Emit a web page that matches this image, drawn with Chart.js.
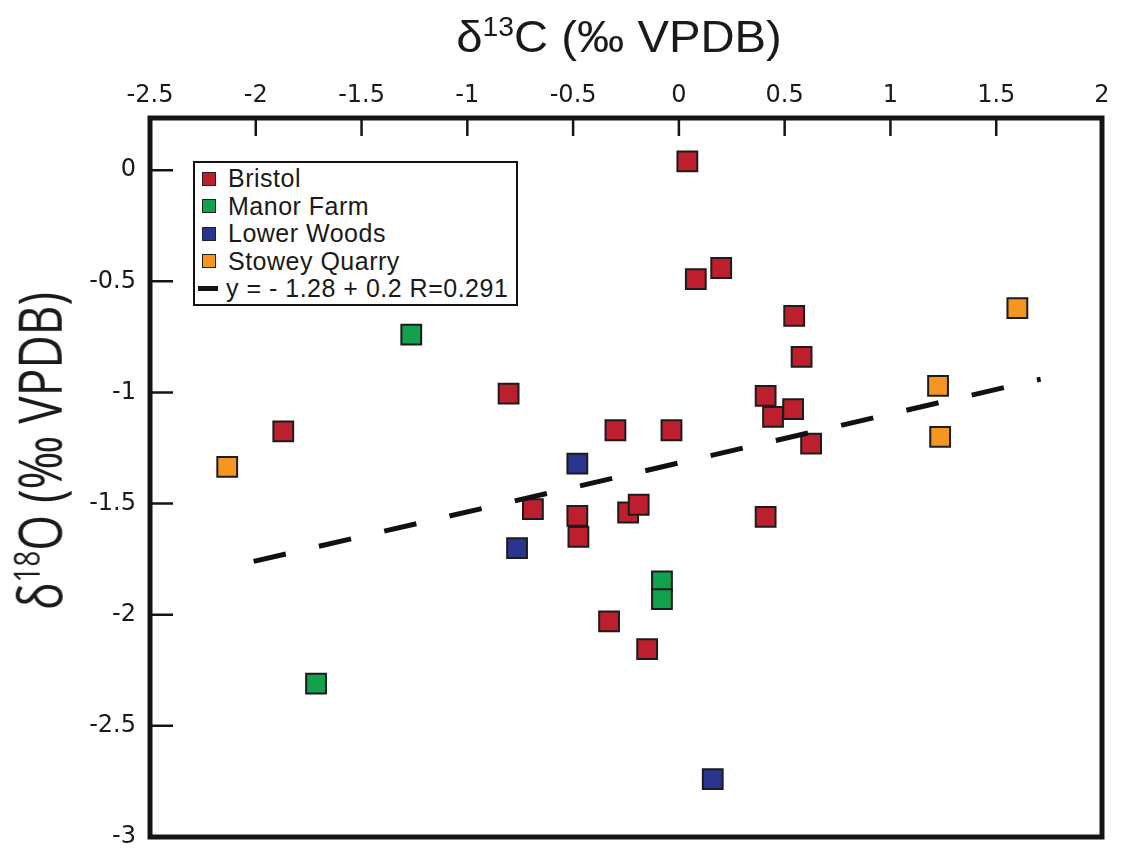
<!DOCTYPE html>
<html lang="en">
<head>
    <meta charset="UTF-8">
    <title>d13C vs d18O</title>
    <script src="https://cdn.jsdelivr.net/npm/chart.js"></script>
    <style>
        body {
            margin: 0;
            background: #ffffff;
        }

        #wrap {
            position: relative;
            width: 1126px;
            height: 863px;
        }

        #xTitle {
            position: absolute;
            left: 619px;
            top: 37px;
            transform: translate(-50%, -50%) scaleX(1.05);
            font-family: "Liberation Sans", Arial, sans-serif;
            font-size: 45px;
            color: #1a1a1a;
            white-space: nowrap;
        }

        #yTitle {
            position: absolute;
            left: 38px;
            top: 451px;
            transform: translate(-50%, -50%) rotate(-90deg) scaleY(1.3);
            font-family: "Open Sans", sans-serif;
            font-size: 46px;
            color: #1a1a1a;
            white-space: nowrap;
        }

        sup {
            font-size: 0.6em;
            vertical-align: 0.6em;
            line-height: 0;
        }

        #legend {
            position: absolute;
            left: 193px;
            top: 161px;
            width: 321px;
            border: 2px solid #111;
            background: #fff;
            padding-top: 2px;
            padding-bottom: 1px;
            font-family: "Liberation Sans", Arial, sans-serif;
            font-size: 25px;
            letter-spacing: 0.5px;
            color: #1a1a1a;
        }

        .row {
            display: flex;
            align-items: center;
            height: 27.5px;
        }

        .sw {
            width: 12px;
            height: 12px;
            border: 1px solid #222;
            margin-left: 7px;
            margin-right: 12px;
        }

        .ln {
            width: 20px;
            height: 5px;
            background: #111;
            margin-left: 3px;
            margin-right: 8px;
        }
    </style>
</head>
<body>
<div id="wrap">
    <canvas id="plot" width="1126" height="863"></canvas>
    <div id="xTitle">δ<sup>13</sup>C (‰ VPDB)</div>
    <div id="yTitle">δ<sup>18</sup>O (‰ VPDB)</div>
    <div id="legend"></div>
</div>

<script>
    // Werte
    const bristolX = [0.04, 0.08, 0.20, 0.545, 0.58, 0.41, 0.445, 0.54, 0.625, -0.805, -1.87, -0.30, -0.035, -0.69, -0.48, -0.475, -0.24, -0.19, 0.41, -0.33, -0.15];
    const bristolY = [0.04, -0.49, -0.44, -0.655, -0.84, -1.015, -1.11, -1.075, -1.23, -1.005, -1.175, -1.17, -1.17, -1.525, -1.555, -1.65, -1.54, -1.505, -1.56, -2.03, -2.155];

    const manorX = [-1.265, -0.08, -0.08, -1.715];
    const manorY = [-0.74, -1.85, -1.93, -2.31];

    const lowerX = [-0.48, -0.765, 0.16];
    const lowerY = [-1.32, -1.70, -2.74];

    const stoweyX = [1.60, 1.225, 1.235, -2.135];
    const stoweyY = [-0.62, -0.97, -1.20, -1.335];

    const trendX = [-2.01, 1.71];
    const trendY = [-1.76, -0.94];

    const seriesNames = ['Bristol', 'Manor Farm', 'Lower Woods', 'Stowey Quarry'];
    const seriesColors = ['#bd1f2e', '#12a14c', '#2a3590', '#f6951f'];
    const trendLabel = 'y = - 1.28 + 0.2 R=0.291';

    const xTicks = [-2.5, -2, -1.5, -1, -0.5, 0, 0.5, 1, 1.5, 2];
    const yTicks = [-3, -2.5, -2, -1.5, -1, -0.5, 0];

    function pairs(xs, ys) {
        return xs.map((x, i) => ({ x: x, y: ys[i] }));
    }

    function pointSet(label, xs, ys, color) {
        return {
            type: 'scatter',
            label: label,
            data: pairs(xs, ys),
            pointStyle: 'rect',
            pointRadius: 14,
            pointHoverRadius: 14,
            backgroundColor: color,
            borderColor: '#1c1c1c',
            borderWidth: 2
        };
    }

    // Rahmen und nach innen zeigende Tickstriche
    const framePlugin = {
        id: 'frame',
        afterDraw(chart) {
            const ctx = chart.ctx;
            const a = chart.chartArea;
            const sx = chart.scales.x;
            const sy = chart.scales.y;
            ctx.save();
            ctx.strokeStyle = '#151515';
            ctx.lineWidth = 2.5;
            ctx.beginPath();
            sx.ticks.forEach(t => {
                const px = sx.getPixelForValue(t.value);
                if (px <= a.left + 2 || px >= a.right - 2) return;
                ctx.moveTo(px, a.top);
                ctx.lineTo(px, a.top + 18);
            });
            sy.ticks.forEach(t => {
                const py = sy.getPixelForValue(t.value);
                if (py <= a.top + 2 || py >= a.bottom - 2) return;
                ctx.moveTo(a.left, py);
                ctx.lineTo(a.left + 23, py);
            });
            ctx.stroke();
            ctx.lineWidth = 5;
            ctx.strokeRect(a.left, a.top, a.right - a.left, a.bottom - a.top);
            ctx.restore();
        }
    };

    const datasets = [
        pointSet(seriesNames[0], bristolX, bristolY, seriesColors[0]),
        pointSet(seriesNames[1], manorX, manorY, seriesColors[1]),
        pointSet(seriesNames[2], lowerX, lowerY, seriesColors[2]),
        pointSet(seriesNames[3], stoweyX, stoweyY, seriesColors[3]),
        {
            type: 'line',
            label: trendLabel,
            data: pairs(trendX, trendY),
            borderColor: '#111',
            borderWidth: 5,
            borderDash: [33, 34],
            pointRadius: 0,
            fill: false,
            order: -1
        }
    ];

    new Chart(document.getElementById('plot'), {
        type: 'scatter',
        data: { datasets: datasets },
        options: {
            responsive: false,
            animation: false,
            layout: { padding: { left: 0, top: 0, right: 24, bottom: 26 } },
            plugins: {
                legend: { display: false },
                tooltip: { enabled: false }
            },
            scales: {
                x: {
                    type: 'linear',
                    position: 'top',
                    min: -2.5,
                    max: 2,
                    afterBuildTicks: s => { s.ticks = xTicks.map(v => ({ value: v })); },
                    afterFit: s => { s.height = 118; },
                    grid: { display: false },
                    border: { display: false },
                    ticks: {
                        padding: 0,
                        color: '#1a1a1a',
                        font: { family: 'DejaVu Sans', size: 24 },
                        maxRotation: 0,
                        autoSkip: false,
                        callback: v => String(v)
                    }
                },
                y: {
                    type: 'linear',
                    min: -3,
                    max: 0.235,
                    afterBuildTicks: s => { s.ticks = yTicks.map(v => ({ value: v })); },
                    afterFit: s => { s.width = 150; },
                    grid: { display: false },
                    border: { display: false },
                    ticks: {
                        padding: 6,
                        color: '#1a1a1a',
                        font: { family: 'DejaVu Sans', size: 24 },
                        autoSkip: false,
                        callback: v => String(v)
                    }
                }
            }
        },
        plugins: [framePlugin]
    });

    // Legende als HTML im Plotbereich
    const legend = document.getElementById('legend');
    seriesNames.forEach((name, i) => {
        const row = document.createElement('div');
        row.className = 'row';
        row.innerHTML = '<span class="sw" style="background:' + seriesColors[i] + '"></span><span>' + name + '</span>';
        legend.appendChild(row);
    });
    const trendRow = document.createElement('div');
    trendRow.className = 'row';
    trendRow.innerHTML = '<span class="ln"></span><span>' + trendLabel + '</span>';
    legend.appendChild(trendRow);
</script>
</body>
</html>
